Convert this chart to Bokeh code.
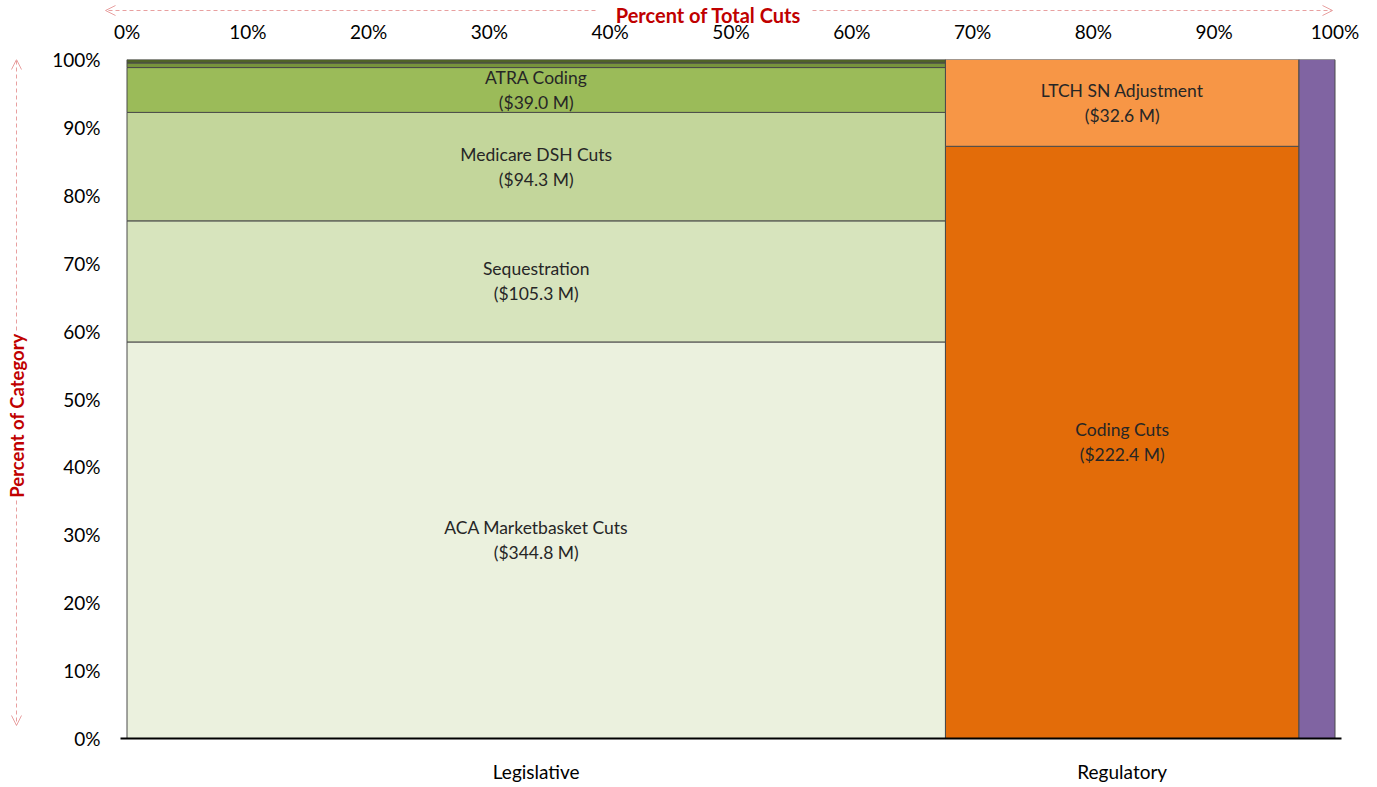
import numpy as np
from bokeh.plotting import figure
from bokeh.layouts import row, column
from bokeh.models import (Range1d, LinearAxis, FixedTicker, Arrow, OpenHead,
                          ColumnDataSource, NumeralTickFormatter)
from bokeh.core.properties import value
from bokeh.embed import file_html
from bokeh.resources import INLINE

# ---------------- data ----------------
categories = ["Legislative", "Regulatory", ""]

leg_names = ["ACA Marketbasket Cuts", "Sequestration", "Medicare DSH Cuts", "ATRA Coding", "", ""]
leg_values = [344.8, 105.3, 94.3, 39.0, 4.0, 3.0]
leg_colors = ["#EBF1DE", "#D7E4BD", "#C3D69B", "#9BBB59", "#77933C", "#4F6228"]

reg_names = ["Coding Cuts", "LTCH SN Adjustment"]
reg_values = [222.4, 32.6]
reg_colors = ["#E36C09", "#F79646"]

oth_names = [""]
oth_values = [26.0]
oth_colors = ["#8064A2"]

pct_ticks = [0.0, 0.1, 0.2, 0.3, 0.4, 0.5, 0.6, 0.7, 0.8, 0.9, 1.0]

x_title = "Percent of Total Cuts"
y_title = "Percent of Category"

groups = [(leg_names, leg_values, leg_colors),
          (reg_names, reg_values, reg_colors),
          (oth_names, oth_values, oth_colors)]

totals = np.array([sum(g[1]) for g in groups])
grand = totals.sum()
widths = totals / grand
lefts = np.concatenate([[0], np.cumsum(widths)[:-1]])
centers = lefts + widths / 2

x0, x1, y0, y1, cols, txt, tx, ty = [], [], [], [], [], [], [], []
for gi, (names, vals, colors) in enumerate(groups):
    fr = np.array(vals) / totals[gi]
    bot = np.concatenate([[0], np.cumsum(fr)[:-1]])
    for n, v, c, b, f in zip(names, vals, colors, bot, fr):
        x0.append(lefts[gi]); x1.append(lefts[gi] + widths[gi])
        y0.append(b); y1.append(b + f); cols.append(c)
        if n:
            txt.append(f"{n}\n(${v:.1f} M)")
            tx.append(centers[gi]); ty.append(b + f / 2)

src = ColumnDataSource(dict(left=x0, right=x1, bottom=y0, top=y1, color=cols))
lab = ColumnDataSource(dict(x=tx, y=ty, text=txt))

# ---------------- layout geometry (pixels) ----------------
W, H = 1377, 787
LEFT_W = 36          # width of the left ruler strip
TOP_H = 46           # height of the top strip (title, arrows, percent-of-total labels)
TOP_FRAME = 28       # drawing area of the top strip
FL, FR, FT, FB = 120, 1341, 59, 738   # main frame edges on the page
X0PX, X1PX = 126.5, 1334.5            # where 0 and 1 sit horizontally
PXX = X1PX - X0PX
PXY = FB - FT

FONT = "Lato"
RED = "#C00000"
ARROW = "#E8A0A0"

def style_axis(ax, standoff, size="19px"):
    ax.axis_line_color = None
    ax.major_tick_line_color = None
    ax.minor_tick_line_color = None
    ax.major_label_standoff = standoff
    ax.major_label_text_font = FONT
    ax.major_label_text_font_size = size
    ax.major_label_text_color = "#000000"

def arrow(fig, xs, ys, xe, ye):
    fig.add_layout(Arrow(x_start=xs, y_start=ys, x_end=xe, y_end=ye,
                         line_color=ARROW, line_width=1, line_dash="4 3",
                         end=OpenHead(size=10, line_color=ARROW, line_width=1)))

# ---------------- main figure ----------------
p = figure(width=W - LEFT_W, height=H - TOP_H, output_backend="svg", toolbar_location=None,
           x_range=Range1d((FL - X0PX) / PXX, (FR - X0PX) / PXX), y_range=Range1d(0, 1),
           min_border_left=FL - LEFT_W, min_border_right=W - FR,
           min_border_top=FT - TOP_H, min_border_bottom=H - FB)
p.outline_line_color = None
p.xgrid.visible = False
p.ygrid.visible = False

p.quad(left="left", right="right", bottom="bottom", top="top", fill_color="color",
       line_color="#4a4a4a", line_width=1, source=src)

p.text(x="x", y="y", text="text", source=lab, text_align="center", text_baseline="middle",
       text_font=value(FONT), text_font_size="17.5px", text_color="#262626", text_line_height=1.2)

xa = p.xaxis[0]
xa.ticker = FixedTicker(ticks=list(centers))
xa.major_label_overrides = {float(c): n for c, n in zip(centers, categories)}
style_axis(xa, 15)
xa.axis_line_color = "black"
xa.axis_line_width = 2

ya = p.yaxis[0]
ya.ticker = FixedTicker(ticks=pct_ticks)
ya.formatter = NumeralTickFormatter(format="0%")
style_axis(ya, 14)

# ---------------- top strip: title, arrows and percent-of-total axis ----------------
top = figure(width=W, height=TOP_H, output_backend="svg", toolbar_location=None,
             x_range=Range1d((0 - X0PX) / PXX, (W - X0PX) / PXX), y_range=Range1d(TOP_FRAME, 0),
             x_axis_location=None, y_axis_location=None,
             min_border_left=0, min_border_right=0, min_border_top=0,
             min_border_bottom=TOP_H - TOP_FRAME)
top.outline_line_color = None
top.grid.visible = False
ta = LinearAxis(ticker=FixedTicker(ticks=pct_ticks), formatter=NumeralTickFormatter(format="0%"))
style_axis(ta, -15)
top.add_layout(ta, "below")

top.text(x=[(708 - X0PX) / PXX], y=[14], text=[x_title], text_align="center", text_baseline="middle",
         text_font=value(FONT), text_font_style="bold", text_font_size="20px", text_color=RED)
arrow(top, (595 - X0PX) / PXX, 10, (105 - X0PX) / PXX, 10)
arrow(top, (812 - X0PX) / PXX, 10, (1332 - X0PX) / PXX, 10)

# ---------------- left ruler strip ----------------
left = figure(width=LEFT_W, height=H - TOP_H, output_backend="svg", toolbar_location=None,
              x_range=Range1d(0, LEFT_W), y_range=Range1d(0, 1),
              x_axis_location=None, y_axis_location=None,
              min_border_left=0, min_border_right=0, min_border_top=FT - TOP_H,
              min_border_bottom=H - FB)
left.outline_line_color = None
left.grid.visible = False
left.text(x=[16], y=[(FB - 415) / PXY], text=[y_title], angle=np.pi / 2, text_align="center",
          text_baseline="middle", text_font=value(FONT), text_font_style="bold",
          text_font_size="18.5px", text_color=RED)
arrow(left, 16, (FB - 330) / PXY, 16, 1.0)
arrow(left, 16, (FB - 500) / PXY, 16, (FB - 725) / PXY)

layout = column(top, row(left, p, spacing=0), spacing=0)

open("out.html", "w").write(file_html(layout, INLINE))
